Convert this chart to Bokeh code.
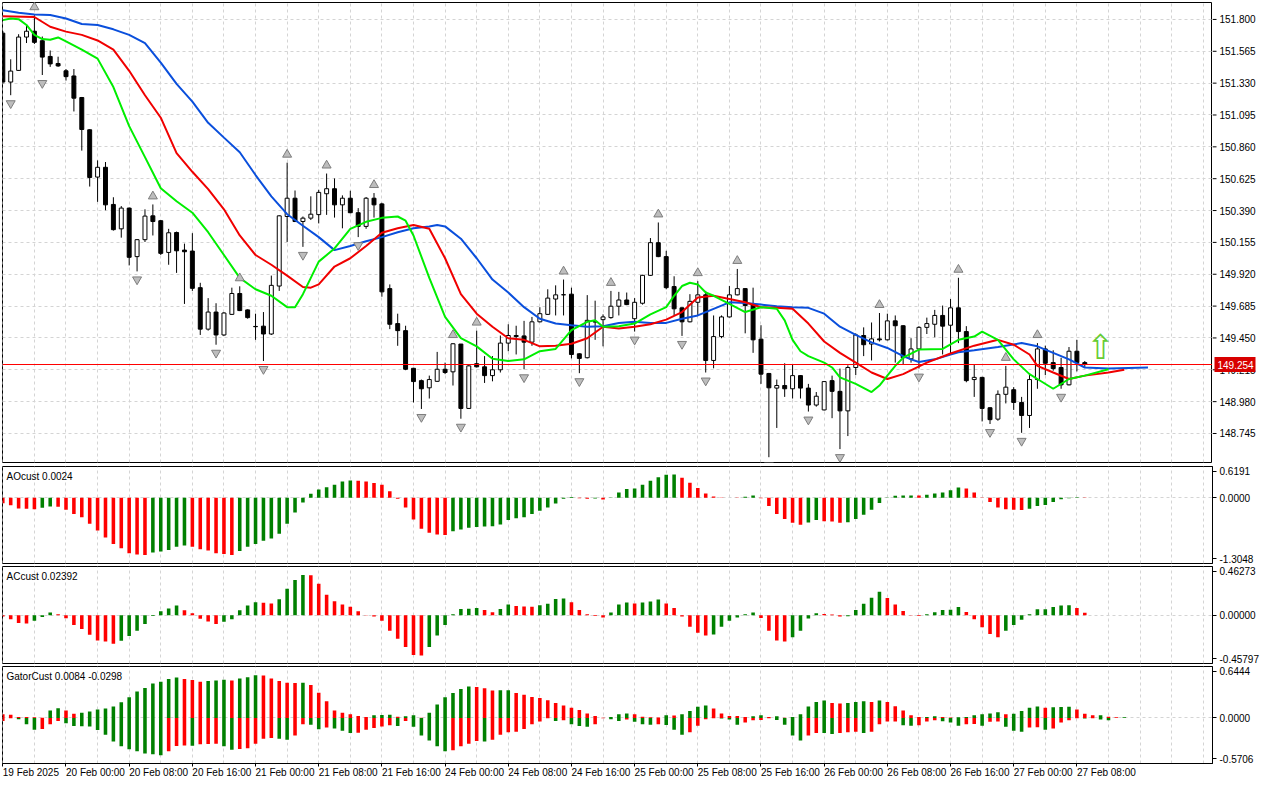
from bokeh.plotting import figure
from bokeh.layouts import column, row
from bokeh.models import (Range1d, FixedTicker, Span, Label, ColumnDataSource)
from bokeh.embed import file_html
from bokeh.resources import INLINE
from bokeh.core.properties import value

# ------------------------------------------------------------------ data
opens = [151.699,151.338,151.424,151.670,151.713,151.643,151.527,151.475,151.421,151.383,
151.224,150.986,150.637,150.709,150.435,150.255,150.408,150.050,150.175,150.351,
150.315,150.081,150.228,150.098,150.091,149.821,149.515,149.641,149.472,149.624,
149.778,149.657,149.535,149.537,149.479,149.833,150.346,150.481,150.309,150.334,
150.360,150.514,150.551,150.432,150.481,150.374,150.273,150.481,150.439,149.814,
149.556,149.504,149.226,149.135,149.082,149.130,149.219,149.200,149.405,148.930,
149.260,149.237,149.172,149.215,149.412,149.468,149.465,149.419,149.569,149.624,
149.737,149.769,149.773,149.333,149.304,149.571,149.585,149.600,149.684,149.730,
149.592,149.706,149.912,150.153,150.050,149.829,149.672,149.569,149.713,149.768,
149.284,149.460,149.605,149.768,149.814,149.696,149.441,149.188,149.080,149.099,
149.075,149.172,149.080,148.955,148.919,149.135,149.056,148.912,149.232,149.468,
149.405,149.443,149.436,149.576,149.540,149.296,149.369,149.528,149.551,149.616,
149.544,149.672,149.497,149.143,149.159,148.935,148.851,149.034,149.068,148.974,
148.878,149.143,149.369,149.268,149.232,149.104,149.352,149.268]

highs = [151.715,151.506,151.691,151.759,151.831,151.674,151.571,151.525,151.434,151.434,
151.228,150.990,150.760,150.748,150.488,150.423,150.412,150.180,150.399,150.435,
150.320,150.255,150.235,150.146,150.223,149.857,149.744,149.706,149.641,149.821,
149.831,149.661,149.629,149.641,149.910,150.355,150.743,150.538,150.346,150.495,
150.543,150.663,150.627,150.502,150.536,150.408,150.490,150.519,150.447,149.845,
149.629,149.540,149.230,149.143,149.172,149.347,149.268,149.412,149.405,149.251,
149.504,149.316,149.316,149.468,149.551,149.540,149.576,149.605,149.677,149.809,
149.838,149.881,149.821,149.337,149.766,149.725,149.624,149.797,149.790,149.785,
149.744,149.916,150.187,150.302,150.093,149.905,149.676,149.773,149.869,149.797,
149.616,149.616,149.833,149.959,149.818,149.821,149.544,149.192,149.143,149.263,
149.255,149.176,149.111,149.051,149.132,149.172,149.224,149.248,149.484,149.528,
149.564,149.634,149.629,149.616,149.544,149.448,149.537,149.600,149.657,149.689,
149.737,149.894,149.537,149.251,149.163,148.939,149.063,149.244,149.087,149.015,
149.188,149.412,149.393,149.359,149.304,149.383,149.436,149.280]

lows = [151.325,151.241,151.420,151.626,151.619,151.390,151.450,151.450,151.349,151.121,
150.832,150.567,150.454,150.392,150.242,150.190,149.985,149.941,150.158,150.206,
150.062,149.990,149.930,149.701,149.797,149.472,149.504,149.400,149.465,149.620,
149.648,149.592,149.436,149.280,149.472,149.797,150.158,150.305,150.122,150.320,
150.295,150.358,150.338,150.259,150.370,150.194,150.255,150.338,149.754,149.515,
149.392,149.212,148.974,148.926,149.003,149.127,149.183,149.099,148.854,148.926,
149.232,149.118,149.130,149.195,149.352,149.328,149.219,149.392,149.565,149.620,
149.616,149.616,149.299,149.190,149.299,149.436,149.388,149.592,149.616,149.692,
149.497,149.696,149.908,150.046,149.809,149.616,149.465,149.565,149.616,149.195,
149.226,149.448,149.601,149.764,149.484,149.340,149.111,148.570,148.786,149.015,
149.003,149.003,148.907,148.943,148.915,148.858,148.630,148.726,149.176,149.316,
149.284,149.424,149.432,149.268,149.255,149.268,149.224,149.479,149.455,149.328,
149.328,149.412,149.123,149.015,148.834,148.815,148.839,148.967,148.919,148.750,
148.786,149.075,149.176,149.208,149.075,149.100,149.203,149.232]

closes = [151.338,151.419,151.670,151.713,151.631,151.522,151.472,151.457,151.378,151.219,
150.988,150.634,150.709,150.432,150.249,150.408,150.045,150.175,150.349,150.309,
150.074,150.226,150.093,150.086,149.816,149.515,149.641,149.472,149.634,149.778,
149.652,149.600,149.533,149.479,149.838,150.351,150.481,150.309,150.334,150.363,
150.524,150.551,150.432,150.481,150.374,150.273,150.481,150.432,149.790,149.551,
149.504,149.219,149.128,149.075,149.143,149.219,149.195,149.407,148.930,149.244,
149.237,149.172,149.215,149.412,149.468,149.460,149.419,149.569,149.629,149.744,
149.768,149.768,149.328,149.299,149.580,149.567,149.605,149.684,149.730,149.696,
149.713,149.912,150.153,150.050,149.821,149.665,149.569,149.720,149.768,149.284,
149.460,149.605,149.768,149.814,149.689,149.436,149.183,149.082,149.099,149.075,
149.172,149.080,148.955,149.020,149.128,149.056,148.912,149.232,149.472,149.400,
149.443,149.436,149.576,149.540,149.304,149.369,149.528,149.556,149.616,149.537,
149.672,149.497,149.135,149.159,148.930,148.847,149.034,149.087,148.974,148.878,
149.143,149.369,149.263,149.224,149.104,149.352,149.268,149.254]

# Alligator lines (bar index, price)
jaw = [(0,151.867),(2,151.850),(4,151.836),(6,151.833),(8,151.807),(10,151.766),(12,151.759),
(14,151.727),(16,151.686),(18,151.626),(20,151.482),(22,151.325),(24,151.193),(26,151.037),
(28,150.928),(30,150.820),(32,150.652),(34,150.495),(36,150.363),(38,150.278),(40,150.194),
(42,150.098),(44,150.129),(46,150.163),(48,150.194),(50,150.230),(52,150.259),(54,150.273),
(55,150.283),(56,150.273),(58,150.182),(60,150.038),(62,149.881),(64,149.785),(66,149.677),
(68,149.592),(70,149.556),(72,149.544),(74,149.533),(76,149.537),(78,149.561),(80,149.569),
(82,149.561),(84,149.561),(86,149.592),(88,149.616),(90,149.665),(92,149.713),(94,149.708),
(96,149.696),(98,149.684),(100,149.677),(102,149.672),(104,149.629),(106,149.533),(108,149.472),
(110,149.417),(112,149.376),(114,149.316),(115,149.292),(116,149.273),(118,149.292),(120,149.328),
(121,149.345),(123,149.359),(126,149.383),(129,149.412),(131,149.388),(133,149.340),(135,149.292),
(137,149.232),(140,149.224),(145,149.232)]

teeth = [(0,151.823),(4,151.818),(6,151.746),(8,151.710),(10,151.686),(12,151.645),(14,151.578),
(16,151.421),(18,151.241),(20,151.075),(22,150.813),(24,150.676),(26,150.548),(28,150.399),
(30,150.206),(32,150.062),(34,149.990),(36,149.910),(38,149.826),(39,149.821),(40,149.845),
(42,149.977),(44,150.038),(46,150.129),(48,150.226),(50,150.259),(52,150.283),(54,150.255),
(56,150.038),(58,149.773),(60,149.629),(62,149.533),(64,149.448),(66,149.436),(68,149.388),
(70,149.392),(72,149.407),(74,149.448),(76,149.533),(78,149.520),(80,149.533),(82,149.551),
(84,149.585),(86,149.641),(88,149.749),(90,149.761),(92,149.737),(94,149.713),(96,149.677),
(98,149.672),(100,149.665),(102,149.556),(104,149.424),(106,149.340),(108,149.268),(110,149.195),
(112,149.147),(114,149.183),(117,149.268),(120,149.335),(123,149.393),(126,149.436),(128,149.400),
(130,149.328),(131,149.244),(133,149.195),(135,149.147),(137,149.172),(140,149.195),(142,149.215)]

lips = [(0,151.795),(1,151.807),(2,151.802),(3,151.759),(4,151.686),(5,151.655),(6,151.650),
(7,151.667),(8,151.638),(10,151.578),(12,151.511),(14,151.301),(16,151.013),(18,150.784),
(20,150.555),(22,150.459),(24,150.374),(26,150.230),(28,150.062),(30,149.893),(32,149.809),
(34,149.761),(36,149.677),(37,149.677),(38,149.773),(39,149.893),(40,150.013),(42,150.110),
(44,150.255),(46,150.307),(48,150.336),(50,150.346),(51,150.315),(52,150.206),(54,149.893),
(56,149.605),(58,149.448),(60,149.388),(62,149.296),(64,149.280),(66,149.292),(68,149.352),
(70,149.369),(72,149.508),(74,149.569),(75,149.580),(76,149.533),(78,149.537),(80,149.556),
(82,149.624),(84,149.677),(85,149.761),(86,149.833),(87,149.857),(88,149.845),(89,149.785),
(90,149.761),(92,149.701),(94,149.641),(96,149.677),(98,149.665),(99,149.580),(100,149.436),
(101,149.352),(102,149.316),(104,149.268),(105,149.232),(106,149.159),(108,149.111),(110,149.051),
(111,149.099),(112,149.172),(113,149.244),(114,149.304),(116,149.364),(119,149.369),(121,149.436),
(123,149.460),(124,149.496),(126,149.436),(128,149.292),(130,149.183),(131,149.147),(133,149.075),
(135,149.147),(137,149.172),(140,149.219)]

fractal_up_bars = [4,19,30,36,41,47,57,60,71,77,83,88,93,111,121,127,131]
fractal_down_bars = [1,5,17,27,33,38,45,53,58,66,73,80,86,89,97,102,106,116,125,129,134]

signal_bar = [139]
signal_price = [149.383]

price_ticks = [151.800,151.565,151.330,151.095,150.860,150.625,150.390,150.155,
               149.920,149.685,149.450,149.215,148.980,148.745]

time_bars = [0,8,16,24,32,40,48,56,64,72,80,88,96,104,112,120,128,136]
time_labels = ["19 Feb 2025","20 Feb 00:00","20 Feb 08:00","20 Feb 16:00","21 Feb 00:00",
               "21 Feb 08:00","21 Feb 16:00","24 Feb 00:00","24 Feb 08:00","24 Feb 16:00",
               "25 Feb 00:00","25 Feb 08:00","25 Feb 16:00","26 Feb 00:00","26 Feb 08:00",
               "26 Feb 16:00","27 Feb 00:00","27 Feb 08:00"]

ao = [-0.110,-0.149,-0.214,-0.220,-0.227,-0.201,-0.175,-0.181,-0.240,-0.324,
-0.389,-0.518,-0.648,-0.790,-0.920,-1.004,-1.101,-1.127,-1.134,-1.088,
-1.069,-1.036,-0.972,-0.946,-0.972,-1.023,-1.049,-1.101,-1.114,-1.134,
-1.056,-0.972,-0.920,-0.855,-0.810,-0.713,-0.518,-0.292,-0.097,0.078,
0.162,0.207,0.259,0.324,0.343,0.337,0.324,0.292,0.259,0.130,
-0.019,-0.194,-0.434,-0.615,-0.693,-0.732,-0.739,-0.667,-0.628,-0.596,
-0.583,-0.570,-0.564,-0.531,-0.440,-0.408,-0.389,-0.324,-0.259,-0.194,
-0.117,-0.019,0.013,-0.013,-0.021,-0.016,-0.035,-0.005,0.104,0.175,
0.181,0.259,0.337,0.408,0.453,0.460,0.395,0.298,0.194,0.084,
0.026,0.006,-0.003,-0.006,0.019,0.045,-0.013,-0.162,-0.324,-0.421,
-0.499,-0.538,-0.492,-0.440,-0.466,-0.473,-0.499,-0.486,-0.421,-0.337,
-0.240,-0.104,-0.006,0.039,0.042,0.045,0.042,0.058,0.084,0.104,
0.149,0.201,0.181,0.104,0.006,-0.084,-0.194,-0.227,-0.240,-0.243,
-0.220,-0.162,-0.143,-0.084,-0.032,-0.013,0.010,0.0024]

ac = [-0.012,-0.037,-0.074,-0.078,-0.053,-0.016,0.025,0.009,-0.028,-0.093,
-0.130,-0.186,-0.239,-0.248,-0.270,-0.242,-0.198,-0.146,-0.084,-0.006,
0.037,0.065,0.093,0.047,0.019,-0.034,-0.059,-0.084,-0.062,-0.037,
0.047,0.093,0.124,0.118,0.112,0.152,0.251,0.335,0.381,0.380,
0.298,0.195,0.133,0.102,0.081,0.037,-0.002,-0.012,-0.053,-0.146,
-0.223,-0.301,-0.378,-0.381,-0.301,-0.192,-0.093,0.009,0.059,0.062,
0.068,0.050,0.028,0.059,0.102,0.087,0.084,0.081,0.096,0.109,
0.155,0.158,0.124,0.050,0.009,-0.006,-0.022,0.025,0.102,0.121,
0.112,0.121,0.130,0.149,0.112,0.068,-0.012,-0.109,-0.167,-0.192,
-0.183,-0.109,-0.053,-0.022,0.009,0.025,-0.025,-0.146,-0.239,-0.248,
-0.208,-0.146,-0.031,0.019,0.012,0.006,-0.012,-0.009,0.050,0.109,
0.167,0.223,0.164,0.102,0.040,0.003,-0.006,0.009,0.028,0.050,
0.053,0.078,0.031,-0.037,-0.115,-0.177,-0.208,-0.146,-0.093,-0.043,
0.009,0.056,0.057,0.078,0.093,0.096,0.068,0.02392]

gator_up = [0.045,0.041,0.012,0.011,0.010,0.004,0.094,0.123,0.094,0.053,
0.065,0.082,0.106,0.119,0.143,0.196,0.258,0.331,0.376,0.430,
0.454,0.487,0.507,0.487,0.475,0.454,0.462,0.470,0.479,0.470,
0.495,0.511,0.536,0.532,0.495,0.462,0.442,0.438,0.442,0.413,
0.315,0.209,0.094,0.065,0.045,0.025,0.012,0.033,0.037,0.041,
0.016,0.020,0.033,0.004,0.065,0.168,0.258,0.311,0.364,0.393,
0.389,0.372,0.344,0.346,0.348,0.311,0.290,0.262,0.250,0.221,
0.188,0.155,0.127,0.098,0.057,0.025,0.004,0.012,0.045,0.057,
0.045,0.016,0.008,0.007,0.033,0.032,0.045,0.086,0.139,0.155,
0.119,0.057,0.025,0.024,0.012,0.020,0.033,0.012,0.020,0.004,
0.012,0.045,0.143,0.200,0.217,0.188,0.180,0.188,0.200,0.209,
0.200,0.217,0.200,0.147,0.094,0.033,0.012,0.013,0.020,0.012,
0.006,0.008,0.012,0.033,0.045,0.057,0.070,0.045,0.053,0.086,
0.127,0.143,0.127,0.135,0.136,0.139,0.106,0.053,0.033,0.034,
0.016,0.008,0.0084]

gator_down = [-0.037,-0.004,-0.016,-0.078,-0.147,-0.139,-0.078,-0.037,-0.065,-0.102,
-0.104,-0.106,-0.151,-0.209,-0.295,-0.356,-0.393,-0.417,-0.446,-0.454,
-0.466,-0.417,-0.352,-0.344,-0.348,-0.331,-0.327,-0.323,-0.356,-0.397,
-0.389,-0.380,-0.323,-0.262,-0.250,-0.262,-0.274,-0.221,-0.078,-0.086,
-0.143,-0.119,-0.131,-0.160,-0.188,-0.184,-0.147,-0.127,-0.106,-0.090,
-0.102,-0.037,-0.110,-0.221,-0.282,-0.356,-0.417,-0.405,-0.356,-0.323,
-0.290,-0.295,-0.274,-0.209,-0.180,-0.172,-0.139,-0.078,-0.045,-0.004,
-0.037,-0.029,-0.078,-0.102,-0.110,-0.078,-0.004,-0.016,-0.037,-0.020,
-0.049,-0.078,-0.086,-0.078,-0.087,-0.147,-0.209,-0.180,-0.098,-0.016,
-0.004,-0.008,-0.020,-0.086,-0.057,-0.029,-0.025,-0.004,-0.025,-0.086,
-0.221,-0.282,-0.221,-0.188,-0.189,-0.200,-0.188,-0.180,-0.172,-0.188,
-0.172,-0.078,-0.045,-0.044,-0.090,-0.098,-0.090,-0.045,-0.029,-0.040,
-0.057,-0.098,-0.078,-0.077,-0.098,-0.049,-0.045,-0.110,-0.160,-0.172,
-0.119,-0.118,-0.147,-0.131,-0.057,-0.029,-0.004,-0.008,-0.004,-0.020,
-0.0298]

# ------------------------------------------------------------------ style
FONT = "'Liberation Sans Narrow', 'Liberation Sans', Arial, sans-serif"
FS = "10px"
GRID = "#d4d4d4"
BAR_GREEN = "#008000"
BAR_RED = "#ff0000"
JAW_C, TEETH_C, LIPS_C = "#0a4fdc", "#f00000", "#00ee00"
X0, X1 = -0.04, 153.17
FRAME_W = 1210
AXIS_W = 52
xr = Range1d(X0, X1)
grid_x = list(range(0, 156, 4))


def base_fig(frame_h, y0, y1, top, bottom, x_axis=False, y_axis=True):
    p = figure(frame_width=FRAME_W, frame_height=frame_h, x_range=xr,
               y_range=Range1d(y0, y1), output_backend="svg", toolbar_location=None,
               y_axis_location="right" if y_axis else None,
               x_axis_location="below" if x_axis else None,
               min_border_left=2, min_border_right=AXIS_W if y_axis else 0,
               min_border_top=top, min_border_bottom=bottom)
    p.background_fill_color = "white"
    p.border_fill_color = "white"
    p.outline_line_color = "black"
    p.outline_line_alpha = 1
    p.outline_line_width = 1
    p.xgrid.ticker = FixedTicker(ticks=grid_x)
    p.xgrid.grid_line_color = GRID
    p.xgrid.grid_line_dash = "3 3"
    p.ygrid.grid_line_color = GRID
    p.ygrid.grid_line_dash = "3 3"
    if y_axis:
        ya = p.yaxis[0]
        ya.major_tick_in = 0
        ya.major_tick_out = 4
        ya.minor_tick_line_color = None
        ya.axis_line_color = "black"
        ya.major_tick_line_color = "black"
        ya.major_label_text_font = FONT
        ya.major_label_text_font_size = FS
        ya.major_label_text_color = "black"
        ya.major_label_standoff = 3
    return p


def rising(vals, use_abs=False):
    out = []
    for i, v in enumerate(vals):
        a = abs(v) if use_abs else v
        b = (abs(vals[i - 1]) if use_abs else vals[i - 1]) if i else a + 1
        out.append(BAR_GREEN if a > b else BAR_RED)
    return out


# ------------------------------------------------------------------ main chart
n = len(closes)
bars = list(range(n))
src = ColumnDataSource(dict(
    x=bars, high=highs, low=lows,
    top=[max(o, c) for o, c in zip(opens, closes)],
    bot=[min(o, c) for o, c in zip(opens, closes)],
    fill=["white" if c > o else "black" for o, c in zip(opens, closes)]))

main = base_fig(460, 148.531, 151.925, 2, 2, y_axis=False)
main.ygrid.ticker = FixedTicker(ticks=price_ticks)

main.segment(x0="x", y0="low", x1="x", y1="high", line_color="black", line_width=1, source=src)
main.vbar(x="x", width=0.5, top="top", bottom="bot", fill_color="fill",
          line_color="black", line_width=1, source=src)

for pts, col in ((jaw, JAW_C), (teeth, TEETH_C), (lips, LIPS_C)):
    main.line([b for b, _ in pts], [v for _, v in pts], line_color=col, line_width=2)

main.scatter(fractal_up_bars, [highs[b] + 0.06 for b in fractal_up_bars],
             marker="triangle", size=9, fill_color="#bdbdbd", line_color="#7d7d7d")
main.scatter(fractal_down_bars, [lows[b] - 0.06 for b in fractal_down_bars],
             marker="inverted_triangle", size=9, fill_color="#bdbdbd", line_color="#7d7d7d")

main.text(x=signal_bar, y=signal_price, text=["\u21e7"], text_font=value("DejaVu Sans"),
          text_font_size="34px", text_color="#66cc33", text_align="center",
          text_baseline="middle")

main.add_layout(Span(location=closes[-1], dimension="width", line_color="#ff0000",
                     line_width=1))

# price scale of the main chart (right side), sharing the main y scale
pax = figure(frame_width=AXIS_W, frame_height=460, x_range=Range1d(0, AXIS_W),
             y_range=main.y_range, output_backend="svg", toolbar_location=None,
             x_axis_location=None, y_axis_location=None,
             min_border_left=0, min_border_right=0, min_border_top=2, min_border_bottom=2)
pax.outline_line_color = None
pax.grid.visible = False
pax.background_fill_color = "white"
pax.border_fill_color = "white"
pax.segment(x0=0, x1=4, y0=price_ticks, y1=price_ticks, line_color="black", line_width=1)
pax.text(x=7, y=price_ticks, text=["%.3f" % t for t in price_ticks],
         text_font=value(FONT), text_font_size=FS, text_color="black",
         text_align="left", text_baseline="middle")
pax.rect(x=22.5, y=[closes[-1]], width=41, height=15, height_units="screen",
         fill_color="#d80000", line_color=None)
pax.text(x=5, y=[closes[-1]], text=["%.3f" % closes[-1]], text_font=value(FONT),
         text_font_size=FS, text_color="white", text_align="left",
         text_baseline="middle")


# ------------------------------------------------------------------ sub panels
def sub_fig(y0, y1, labels, title, bottom=1, x_axis=False):
    p = base_fig(97, y0, y1, 2, bottom, x_axis)
    span = y1 - y0
    t_top = y1 - 0.05 * span
    t_bot = y0 + 0.05 * span
    ya = p.yaxis[0]
    ya.ticker = FixedTicker(ticks=[t_bot, 0.0, t_top])
    ya.major_label_overrides = {t_top: labels[0], 0.0: labels[1], t_bot: labels[2]}
    p.ygrid.ticker = FixedTicker(ticks=[0.0])
    p.add_layout(Label(x=X0, y=y1, x_offset=4, y_offset=-4, text=title,
                       text_font=FONT, text_font_size=FS, text_color="black",
                       text_baseline="top", text_align="left"))
    return p


ao_p = sub_fig(-1.3048, 0.6191, ["0.6191", "0.0000", "-1.3048"], "AOcust 0.0024")
ao_p.vbar(x=bars, top=ao, bottom=0, width=0.45, fill_color=rising(ao),
          line_color=None)

ac_p = sub_fig(-0.45797, 0.46273, ["0.46273", "0.00000", "-0.45797"], "ACcust 0.02392")
ac_p.vbar(x=bars, top=ac, bottom=0, width=0.45, fill_color=rising(ac),
          line_color=None)

g_p = sub_fig(-0.5706, 0.6444, ["0.6444", "0.0000", "-0.5706"],
              "GatorCust 0.0084 -0.0298", bottom=0, x_axis=True)
g_p.vbar(x=list(range(len(gator_up))), top=gator_up, bottom=0, width=0.45,
         fill_color=rising(gator_up), line_color=None)
g_p.vbar(x=list(range(len(gator_down))), top=0, bottom=gator_down, width=0.45,
         fill_color=rising(gator_down, use_abs=True), line_color=None)
xa = g_p.xaxis[0]
xa.ticker = FixedTicker(ticks=time_bars)
xa.major_label_overrides = {b: t for b, t in zip(time_bars, time_labels)}
xa.major_label_orientation = -0.0001   # near-horizontal, labels start at their tick
xa.major_tick_in = 0
xa.major_tick_out = 3
xa.minor_tick_line_color = None
xa.axis_line_color = "black"
xa.major_tick_line_color = "black"
xa.major_label_text_font = FONT
xa.major_label_text_font_size = FS
xa.major_label_text_color = "black"
xa.major_label_standoff = 6

layout = column(row(main, pax, spacing=0), ao_p, ac_p, g_p, spacing=0)
open("out.html", "w").write(file_html(layout, INLINE, "USDJPY H1"))
